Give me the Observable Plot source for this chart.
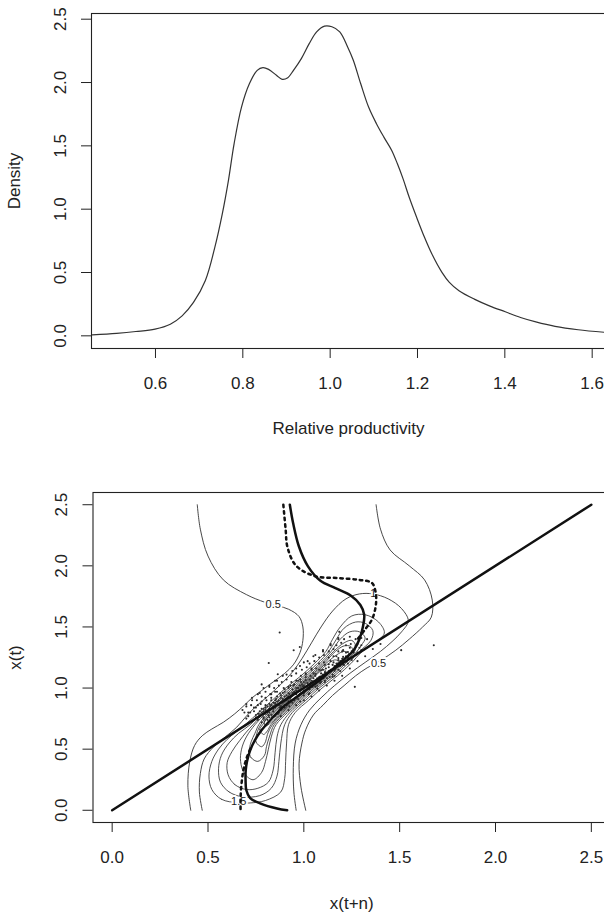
<!DOCTYPE html>
<html><head><meta charset="utf-8">
<script src="https://cdn.jsdelivr.net/npm/d3@7"></script>
<script src="https://cdn.jsdelivr.net/npm/@observablehq/plot@0.6"></script>
<style>
html,body{margin:0;padding:0;background:#fff;}
#chart{width:604px;overflow:hidden;}
#chart svg{display:block;}
</style></head><body><div id="chart"></div>
<script>
// ---------- Top panel: density ----------
const densX = [0.4555,0.511,0.555,0.599,0.634,0.661,0.687,0.714,0.736,0.753,0.767,0.780,0.797,0.815,0.833,0.846,0.859,0.877,0.890,0.903,0.916,0.934,0.952,0.969,0.987,1.004,1.022,1.040,1.053,1.070,1.088,1.106,1.123,1.141,1.154,1.167,1.181,1.198,1.216,1.233,1.256,1.273,1.295,1.330,1.366,1.401,1.436,1.471,1.515,1.568,1.628];
const densY = [0.008,0.02,0.034,0.053,0.092,0.158,0.264,0.435,0.70,0.963,1.226,1.516,1.806,1.99,2.096,2.118,2.104,2.057,2.025,2.038,2.096,2.189,2.307,2.40,2.445,2.44,2.40,2.281,2.176,1.99,1.806,1.675,1.569,1.464,1.358,1.239,1.094,0.936,0.778,0.646,0.501,0.422,0.356,0.29,0.235,0.19,0.145,0.11,0.075,0.048,0.028];
const topXTicks = [0.6,0.8,1.0,1.2,1.4,1.6];
const topYTicks = [0,0.5,1,1.5,2,2.5];
const topXDomain = [0.4535, 1.6305];
const topYDomain = [-0.1, 2.545];

// ---------- Bottom panel: stochastic kernel ----------
const botTicks = [0,0.5,1,1.5,2,2.5];
const botDomain = [-0.1, 2.6];
const diagonal = [[0,0],[2.5,2.5]];
const medianLine = [[0.927,2.5],[0.944,2.35],[0.974,2.16],[1.02,2.0],[1.085,1.88],[1.165,1.817],[1.246,1.755],[1.295,1.68],[1.315,1.60],[1.308,1.50],[1.29,1.40],[1.26,1.31],[1.206,1.23],[1.145,1.148],[1.085,1.066],[1.024,0.997],[0.964,0.929],[0.893,0.847],[0.833,0.751],[0.78,0.656],[0.745,0.574],[0.72,0.49],[0.705,0.41],[0.697,0.33],[0.696,0.25],[0.70,0.164],[0.72,0.10],[0.775,0.055],[0.86,0.015],[0.913,0.0]];
const dottedUpper = [[0.893,2.5],[0.905,2.3],[0.915,2.15],[0.96,2.0],[1.06,1.915],[1.18,1.90],[1.29,1.885],[1.355,1.86],[1.375,1.78],[1.375,1.67],[1.355,1.56],[1.32,1.48],[1.28,1.40]];
const dottedLower = [[0.72,0.50],[0.70,0.42],[0.685,0.33],[0.675,0.22],[0.67,0.10],[0.67,0.0]];

// open contours (cut by the frame)
const c05L = [[0.444,2.5],[0.46,2.3],[0.50,2.08],[0.58,1.885],[0.70,1.765],[0.80,1.70],[0.92,1.645],[0.975,1.585],[0.995,1.50],[0.995,1.39],[0.98,1.29],[0.945,1.19],[0.90,1.12],[0.84,1.05],[0.78,0.98],[0.73,0.92],[0.69,0.86],[0.64,0.79],[0.58,0.72],[0.52,0.665],[0.47,0.61],[0.43,0.53],[0.405,0.40],[0.395,0.2],[0.41,0.0]];
const c05R = [[1.377,2.5],[1.40,2.3],[1.45,2.13],[1.55,2.0],[1.63,1.885],[1.67,1.72],[1.665,1.58],[1.62,1.50],[1.55,1.40],[1.48,1.31],[1.40,1.225],[1.33,1.165],[1.27,1.10],[1.21,1.02],[1.15,0.94],[1.10,0.86],[1.05,0.78],[1.01,0.66],[0.99,0.55],[0.975,0.38],[0.985,0.19],[1.01,0.0]];
const c1 = [[0.47,0.0],[0.455,0.15],[0.46,0.30],[0.48,0.42],[0.53,0.52],[0.59,0.60],[0.65,0.68],[0.70,0.77],[0.75,0.85],[0.81,0.93],[0.88,1.03],[0.94,1.13],[0.99,1.24],[1.04,1.37],[1.09,1.50],[1.15,1.63],[1.22,1.73],[1.29,1.77],[1.36,1.77],[1.44,1.73],[1.51,1.65],[1.545,1.55],[1.51,1.46],[1.46,1.38],[1.40,1.30],[1.32,1.21],[1.24,1.12],[1.16,1.02],[1.09,0.92],[1.03,0.82],[0.985,0.70],[0.955,0.55],[0.945,0.35],[0.948,0.15],[0.96,0.0]];
// closed contours
const c15 = [[0.66,0.06],[0.57,0.09],[0.52,0.17],[0.505,0.28],[0.52,0.40],[0.555,0.50],[0.60,0.58],[0.645,0.64],[0.70,0.71],[0.765,0.80],[0.835,0.90],[0.905,1.00],[0.985,1.10],[1.055,1.20],[1.115,1.30],[1.15,1.40],[1.19,1.50],[1.25,1.59],[1.32,1.60],[1.39,1.54],[1.42,1.45],[1.37,1.37],[1.305,1.30],[1.245,1.20],[1.175,1.10],[1.095,1.00],[1.025,0.90],[0.955,0.80],[0.92,0.70],[0.91,0.55],[0.905,0.40],[0.90,0.26],[0.88,0.15],[0.80,0.08],[0.72,0.06]];
const c2 = [[0.68,0.11],[0.61,0.15],[0.565,0.23],[0.555,0.34],[0.57,0.45],[0.61,0.55],[0.66,0.63],[0.72,0.70],[0.78,0.80],[0.85,0.90],[0.92,1.00],[1.00,1.10],[1.07,1.20],[1.13,1.30],[1.17,1.40],[1.21,1.49],[1.27,1.54],[1.32,1.53],[1.36,1.47],[1.35,1.39],[1.29,1.30],[1.23,1.20],[1.16,1.10],[1.08,1.00],[1.01,0.90],[0.94,0.80],[0.90,0.70],[0.88,0.55],[0.87,0.40],[0.86,0.28],[0.83,0.18],[0.77,0.12]];
const c25 = [[0.70,0.17],[0.64,0.21],[0.605,0.29],[0.60,0.39],[0.625,0.48],[0.665,0.57],[0.70,0.64],[0.735,0.70],[0.793,0.80],[0.863,0.90],[0.933,1.00],[1.013,1.10],[1.083,1.20],[1.143,1.30],[1.19,1.40],[1.24,1.46],[1.29,1.46],[1.32,1.41],[1.30,1.35],[1.277,1.30],[1.217,1.20],[1.147,1.10],[1.067,1.00],[0.997,0.90],[0.927,0.80],[0.88,0.70],[0.86,0.60],[0.85,0.47],[0.84,0.33],[0.815,0.23],[0.76,0.18]];
const c3 = [[0.735,0.25],[0.69,0.30],[0.67,0.40],[0.675,0.50],[0.70,0.60],[0.745,0.70],[0.805,0.80],[0.875,0.90],[0.945,1.00],[1.025,1.10],[1.095,1.20],[1.155,1.30],[1.21,1.37],[1.25,1.39],[1.27,1.35],[1.265,1.30],[1.205,1.20],[1.135,1.10],[1.055,1.00],[0.985,0.90],[0.915,0.80],[0.855,0.70],[0.83,0.60],[0.815,0.50],[0.80,0.40],[0.78,0.31]];
const c35 = [[0.76,0.40],[0.725,0.43],[0.715,0.48],[0.725,0.56],[0.745,0.63],[0.765,0.70],[0.815,0.80],[0.885,0.90],[0.955,1.00],[1.035,1.10],[1.105,1.20],[1.165,1.30],[1.21,1.345],[1.245,1.34],[1.255,1.30],[1.195,1.20],[1.125,1.10],[1.045,1.00],[0.975,0.90],[0.905,0.80],[0.845,0.70],[0.82,0.60],[0.805,0.52],[0.795,0.45]];
const c4 = [[0.78,0.52],[0.75,0.56],[0.755,0.63],[0.775,0.70],[0.824,0.80],[0.894,0.90],[0.964,1.00],[1.044,1.10],[1.114,1.20],[1.17,1.27],[1.21,1.30],[1.235,1.28],[1.186,1.20],[1.116,1.10],[1.036,1.00],[0.966,0.90],[0.896,0.80],[0.836,0.70],[0.81,0.62],[0.80,0.56]];
const c45 = [[0.79,0.62],[0.77,0.66],[0.785,0.70],[0.832,0.80],[0.902,0.90],[0.972,1.00],[1.052,1.10],[1.12,1.19],[1.16,1.23],[1.18,1.22],[1.165,1.18],[1.108,1.10],[1.028,1.00],[0.958,0.90],[0.888,0.80],[0.828,0.70],[0.81,0.65]];
const c5 = [[0.80,0.69],[0.795,0.73],[0.839,0.80],[0.909,0.90],[0.979,1.00],[1.059,1.10],[1.10,1.15],[1.115,1.14],[1.10,1.10],[1.021,1.00],[0.951,0.90],[0.881,0.80],[0.83,0.72]];
const c55 = [[0.83,0.76],[0.845,0.80],[0.915,0.90],[0.985,1.00],[1.04,1.06],[1.055,1.05],[1.015,1.00],[0.945,0.90],[0.875,0.80],[0.85,0.765]];
const c6 = [[0.87,0.82],[0.921,0.90],[0.97,0.97],[0.985,0.97],[0.939,0.90],[0.885,0.82]];

const contourLabels = [
  {x:0.84, y:1.685, t:"0.5"},
  {x:1.39, y:1.20, t:"0.5"},
  {x:1.363, y:1.77, t:"1"},
  {x:0.66, y:0.07, t:"1.5"}
];

// observations (small dots)
const obs = [[0.72,0.80],[0.74,0.84],[0.75,0.78],[0.76,0.86],[0.77,0.81],[0.78,0.89],[0.79,0.76],[0.80,0.84],[0.80,0.92],[0.81,0.80],[0.82,0.87],[0.83,0.78],[0.83,0.95],[0.84,0.83],[0.85,0.90],[0.86,0.86],[0.86,0.97],[0.87,0.80],[0.88,0.92],[0.89,0.88],[0.90,0.84],[0.90,0.99],[0.91,0.94],[0.92,0.89],[0.93,1.02],[0.94,0.96],[0.95,0.90],[0.96,1.00],[0.97,1.06],[0.98,0.95],[0.99,1.03],[1.00,0.98],[1.01,1.09],[1.02,1.02],[1.03,0.96],[1.04,1.06],[1.05,1.12],[1.06,1.01],[1.07,1.08],[1.08,1.15],[1.09,1.05],[1.10,1.11],[1.11,1.19],[1.12,1.08],[1.13,1.14],[1.14,1.22],[1.15,1.11],[1.16,1.18],[1.17,1.26],[1.18,1.15],[1.19,1.22],[1.20,1.30],[1.21,1.19],[1.22,1.26],[1.24,1.33],[1.25,1.23],[1.26,1.29],[1.28,1.36],[1.30,1.31],[1.33,1.40],[0.70,0.85],[0.73,0.90],[0.76,0.95],[0.79,1.00],[0.82,1.02],[0.85,1.06],[0.88,0.77],[0.92,0.82],[0.96,0.86],[1.00,0.90],[1.04,0.93],[1.08,0.98],[1.12,1.02],[1.16,1.06],[0.89,1.10],[0.94,1.14],[0.98,1.18],[1.02,1.22],[1.06,1.27],[1.10,1.30],[1.14,1.35],[1.18,1.40],[1.20,1.10],[1.24,1.16],[1.28,1.22],[1.32,1.26],[1.36,1.32],[1.40,1.36],[0.78,0.72],[0.81,0.74],[0.74,0.74],[0.71,0.77],[0.69,0.80],[0.874,1.454],[0.979,1.336],[0.947,1.309],[0.817,1.205],[0.864,1.113],[1.678,1.35],[1.266,1.01],[1.185,1.46],[1.508,1.31],[0.78,1.03],
[0.75,0.76],[0.76,0.79],[0.77,0.77],[0.78,0.80],[0.78,0.83],[0.79,0.81],[0.80,0.79],[0.80,0.82],[0.81,0.85],[0.82,0.83],[0.82,0.80],[0.83,0.86],[0.84,0.85],[0.84,0.88],[0.85,0.84],[0.85,0.87],[0.86,0.89],[0.87,0.86],[0.87,0.90],[0.88,0.88],[0.88,0.85],[0.89,0.91],[0.90,0.89],[0.90,0.93],[0.91,0.90],[0.92,0.93],[0.92,0.96],[0.93,0.92],[0.94,0.94],[0.94,0.99],[0.95,0.97],[0.96,0.95],[0.96,0.98],[0.97,1.00],[0.98,0.98],[0.98,1.02],[0.99,0.99],[1.00,1.02],[1.00,1.05],[1.01,1.01],[1.02,1.04],[1.03,1.07],[1.03,1.02],[1.04,1.04],[1.05,1.08],[1.06,1.06],[1.06,1.10],[1.07,1.05],[1.08,1.09],[1.09,1.12],[1.10,1.08],[1.10,1.15],[1.11,1.13],[1.12,1.11],[1.13,1.17],[1.14,1.15],[1.15,1.19],[1.16,1.14],[1.17,1.20],[1.18,1.23],[1.19,1.18],[1.20,1.24],[1.21,1.22],[1.22,1.29],[1.23,1.25],[1.25,1.30],[1.27,1.27],[1.29,1.33],[0.83,0.90],[0.86,0.93],[0.89,0.96],[0.92,1.00],[0.95,1.03],[0.98,1.07],[1.01,1.12],[1.04,1.16],[0.88,0.82],[0.91,0.86],[0.94,0.88],[0.97,0.91],[1.00,0.94],[1.03,0.99],[1.07,1.02],[1.11,1.06],[1.15,1.09]];
const obs2 = [[0.70,0.75],[0.73,0.73],[0.76,0.74],[0.79,0.75],[0.82,0.76],
[0.68,0.82],[0.71,0.80],[0.74,0.81],[0.765,0.79],[0.79,0.83],[0.815,0.78],[0.84,0.81],[0.865,0.79],
[0.70,0.87],[0.725,0.86],[0.75,0.84],[0.775,0.87],[0.80,0.86],[0.825,0.85],[0.85,0.88],[0.875,0.84],[0.90,0.86],[0.925,0.85],
[0.73,0.92],[0.755,0.90],[0.78,0.93],[0.805,0.90],[0.83,0.92],[0.855,0.91],[0.88,0.94],[0.905,0.91],[0.93,0.90],[0.955,0.92],[0.98,0.89],
[0.77,0.96],[0.80,0.97],[0.825,0.95],[0.85,0.97],[0.875,0.955],[0.90,0.97],[0.925,0.95],[0.95,0.965],[0.975,0.94],[1.00,0.96],[1.025,0.95],
[0.82,1.01],[0.845,1.00],[0.87,1.02],[0.895,1.00],[0.92,1.01],[0.945,1.02],[0.97,1.00],[0.995,1.015],[1.02,1.00],[1.045,1.01],[1.07,0.995],
[0.86,1.06],[0.885,1.05],[0.91,1.07],[0.935,1.05],[0.96,1.06],[0.985,1.05],[1.01,1.065],[1.035,1.045],[1.06,1.055],[1.085,1.04],[1.11,1.05],
[0.91,1.11],[0.935,1.10],[0.96,1.12],[0.985,1.10],[1.01,1.11],[1.035,1.10],[1.06,1.115],[1.085,1.095],[1.11,1.105],[1.135,1.09],[1.16,1.10],
[0.96,1.16],[0.99,1.15],[1.015,1.17],[1.04,1.15],[1.065,1.16],[1.09,1.145],[1.115,1.16],[1.14,1.145],[1.165,1.155],[1.19,1.14],
[1.00,1.21],[1.03,1.20],[1.055,1.22],[1.08,1.20],[1.105,1.21],[1.13,1.195],[1.155,1.21],[1.18,1.20],[1.205,1.19],[1.23,1.20],
[1.05,1.26],[1.08,1.25],[1.105,1.27],[1.13,1.25],[1.155,1.26],[1.18,1.245],[1.205,1.255],[1.23,1.245],[1.255,1.25],
[1.10,1.31],[1.13,1.30],[1.155,1.32],[1.18,1.30],[1.205,1.31],[1.23,1.295],[1.255,1.305],[1.28,1.29],
[1.14,1.36],[1.17,1.35],[1.195,1.37],[1.22,1.35],[1.245,1.36],[1.27,1.345],[1.30,1.35],
[1.18,1.41],[1.21,1.40],[1.24,1.42],[1.27,1.40],[1.30,1.41]];

// ---------- build ----------
const fmt = d3.format(".1f");
const FONT = "'Liberation Sans', Arial, sans-serif";
const density = densX.map((x, i) => ({x, y: densY[i]}));
const toRows = (arr, id) => arr.map(([x, y]) => ({x, y, id}));
const openContours = [...toRows(c05L,"a"), ...toRows(c05R,"b"), ...toRows(c1,"c")];
const closedContours = [c15,c2,c25,c3,c35,c4,c45,c5,c55,c6].flatMap((c, i) => toRows(c, "k" + i));
const dotted = [...toRows(dottedUpper,"u"), ...toRows(dottedLower,"l")];
const allObs = [...obs, ...obs2];

// y axis in R style: explicit 10px ticks left of the frame, labels rotated parallel to the axis
const yAxisR = (ticks, label, xmin) => [
  Plot.ruleY(ticks, {y: d => d, x1: xmin, x2: xmin, insetLeft: -10, stroke: "#222", strokeWidth: 1}),
  Plot.axisY({ticks, tickSize: 10, tickPadding: 21, tickFormat: fmt, fontSize: 17, stroke: "none",
    tickRotate: -90, textAnchor: "middle", lineAnchor: "middle",
    label, labelAnchor: "center", labelOffset: 84, labelArrow: "none"})
];

const topPlot = Plot.plot({
  width: 604, height: 460,
  marginTop: 13, marginBottom: 112, marginLeft: 91, marginRight: -1,
  x: {domain: topXDomain},
  y: {domain: topYDomain},
  style: {fontFamily: FONT, fontSize: "17px", color: "#222", background: "white"},
  marks: [
    Plot.frame({stroke: "#222", strokeWidth: 1.1}),
    Plot.axisX({ticks: topXTicks, tickSize: 10, tickPadding: 18, tickFormat: fmt, fontSize: 17,
      label: "Relative productivity", labelAnchor: "center", labelOffset: 85, labelArrow: "none"}),
    ...yAxisR(topYTicks, "Density", topXDomain[0]),
    Plot.line(density, {x: "x", y: "y", stroke: "#333", strokeWidth: 1.2, curve: "catmull-rom"})
  ]
});

const botPlot = Plot.plot({
  width: 604, height: 454,
  marginTop: 32, marginBottom: 92, marginLeft: 92.5, marginRight: -6,
  x: {domain: botDomain},
  y: {domain: botDomain},
  style: {fontFamily: FONT, fontSize: "17px", color: "#222", background: "white"},
  marks: [
    Plot.frame({stroke: "#222", strokeWidth: 1.1}),
    Plot.axisX({ticks: botTicks, tickSize: 10, tickPadding: 18, tickFormat: fmt, fontSize: 17,
      label: "x(t+n)", labelAnchor: "center", labelOffset: 86, labelArrow: "none"}),
    ...yAxisR(botTicks, "x(t)", botDomain[0]),
    Plot.dot(allObs, {x: d => d[0], y: d => d[1], r: 1.05, fill: "#2a2a2a", stroke: null}),
    Plot.line(openContours, {x: "x", y: "y", z: "id", stroke: "#333", strokeWidth: 0.9, curve: "catmull-rom"}),
    Plot.line(closedContours, {x: "x", y: "y", z: "id", stroke: "#333", strokeWidth: 0.85, curve: "catmull-rom-closed"}),
    Plot.text(contourLabels, {x: "x", y: "y", text: "t", fontSize: 11, fill: "#222", stroke: "white", strokeWidth: 4, paintOrder: "stroke"}),
    Plot.line(dotted, {x: "x", y: "y", z: "id", stroke: "#111", strokeWidth: 2.5, strokeDasharray: "2.5,4", curve: "catmull-rom"}),
    Plot.line(medianLine, {x: d => d[0], y: d => d[1], stroke: "#111", strokeWidth: 2.5, curve: "catmull-rom"}),
    Plot.line(diagonal, {x: d => d[0], y: d => d[1], stroke: "#111", strokeWidth: 2.5})
  ]
});

document.getElementById("chart").append(topPlot, botPlot);
</script></body></html>
